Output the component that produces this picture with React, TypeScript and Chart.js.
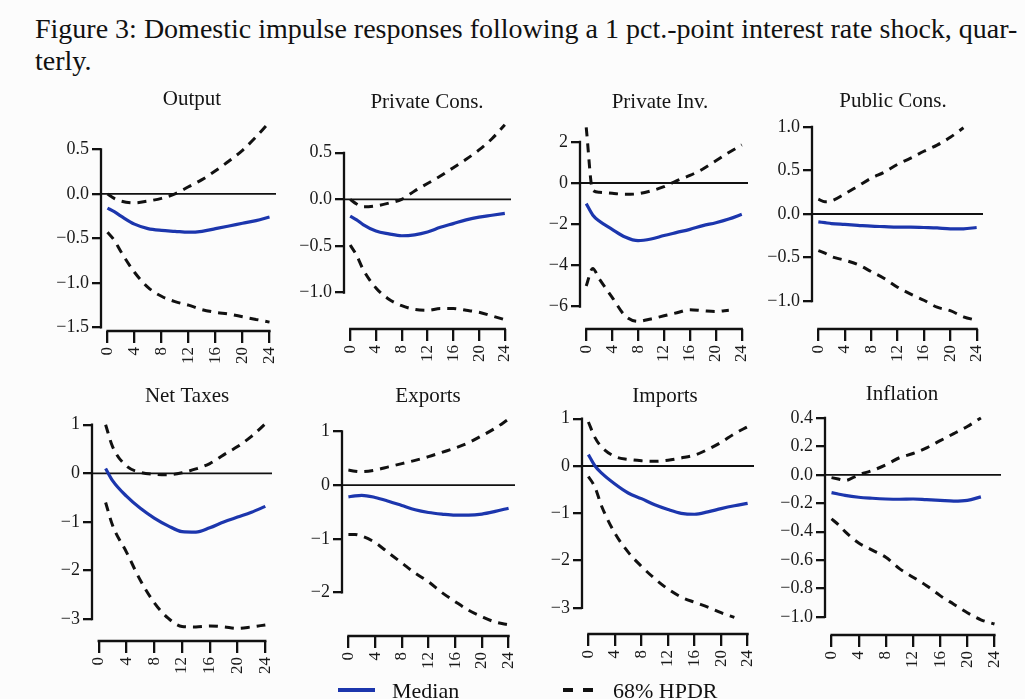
import React, { useEffect, useRef } from "react";
import { Chart, registerables } from "chart.js";

Chart.register(...registerables);

const FONT = '"Liberation Serif", "Times New Roman", serif';
const MEDIAN_COLOR = "#1c36ad";
const BAND_COLOR = "#111111";
const AXIS_COLOR = "#111111";

const HORIZONS = [0, 1, 2, 4, 6, 8, 10, 12, 14, 16, 18, 20, 22, 24];
const X_TICKS = [0, 4, 8, 12, 16, 20, 24];
const X_MIN = -0.96;
const X_MAX = 24.96;

// Output
const outputUpper = [0.0, -0.05, -0.08, -0.1, -0.08, -0.05, 0.0, 0.08, 0.16, 0.26, 0.37, 0.49, 0.64, 0.81];
const outputMedian = [-0.16, -0.2, -0.25, -0.34, -0.39, -0.41, -0.42, -0.43, -0.42, -0.39, -0.36, -0.33, -0.3, -0.26];
const outputLower = [-0.43, -0.52, -0.65, -0.88, -1.05, -1.15, -1.21, -1.25, -1.3, -1.33, -1.35, -1.38, -1.41, -1.44];
const outputTicks = [0.5, 0, -0.5, -1, -1.5];

// Private Cons.
const privConsUpper = [0.0, -0.05, -0.08, -0.07, -0.04, 0.0, 0.09, 0.17, 0.25, 0.34, 0.43, 0.53, 0.65, 0.8];
const privConsMedian = [-0.18, -0.22, -0.27, -0.34, -0.37, -0.39, -0.38, -0.35, -0.3, -0.26, -0.22, -0.19, -0.17, -0.15];
const privConsLower = [-0.49, -0.6, -0.75, -0.95, -1.07, -1.14, -1.18, -1.19, -1.17, -1.17, -1.19, -1.21, -1.25, -1.29];
const privConsTicks = [0.5, 0, -0.5, -1];

// Private Inv.
const privInvUpper = [2.7, -0.35, -0.45, -0.5, -0.55, -0.52, -0.38, -0.18, 0.12, 0.37, 0.68, 1.08, 1.48, 1.85];
const privInvMedian = [-1.0, -1.55, -1.85, -2.25, -2.62, -2.8, -2.72, -2.55, -2.4, -2.25, -2.07, -1.93, -1.75, -1.52];
const privInvLower = [-5.0, -4.15, -4.65, -5.55, -6.45, -6.72, -6.6, -6.45, -6.3, -6.15, -6.2, -6.24, -6.18, null];
const privInvTicks = [2, 0, -2, -4, -6];

// Public Cons.
const pubConsUpper = [0.17, 0.14, 0.15, 0.23, 0.32, 0.41, 0.48, 0.57, 0.64, 0.72, 0.79, 0.88, 0.99, null];
const pubConsMedian = [-0.09, -0.1, -0.11, -0.12, -0.13, -0.14, -0.145, -0.15, -0.15, -0.155, -0.16, -0.17, -0.17, -0.155];
const pubConsLower = [-0.42, -0.45, -0.49, -0.53, -0.58, -0.66, -0.74, -0.84, -0.92, -0.99, -1.07, -1.11, -1.18, -1.22];
const pubConsTicks = [1, 0.5, 0, -0.5, -1];

// Net Taxes
const netTaxUpper = [null, 1.0, 0.55, 0.15, 0.02, -0.02, -0.03, 0.01, 0.09, 0.2, 0.38, 0.55, 0.76, 1.02];
const netTaxMedian = [null, 0.1, -0.15, -0.47, -0.72, -0.92, -1.08, -1.2, -1.21, -1.12, -1.0, -0.9, -0.8, -0.68];
const netTaxLower = [null, -0.6, -1.07, -1.62, -2.2, -2.66, -2.98, -3.15, -3.16, -3.14, -3.16, -3.19, -3.16, -3.12];
const netTaxTicks = [1, 0, -1, -2, -3];

// Exports
const exportsUpper = [0.28, 0.26, 0.25, 0.28, 0.34, 0.4, 0.46, 0.53, 0.61, 0.69, 0.79, 0.92, 1.06, 1.23];
const exportsMedian = [-0.22, -0.2, -0.19, -0.23, -0.3, -0.38, -0.46, -0.51, -0.54, -0.56, -0.56, -0.54, -0.49, -0.43];
const exportsLower = [-0.92, -0.92, -0.95, -1.07, -1.26, -1.45, -1.64, -1.8, -2.0, -2.17, -2.33, -2.45, -2.55, -2.6];
const exportsTicks = [1, 0, -1, -2];

// Imports
const importsUpper = [0.93, 0.6, 0.4, 0.2, 0.14, 0.11, 0.1, 0.12, 0.17, 0.23, 0.35, 0.5, 0.68, 0.83];
const importsMedian = [0.24, 0.0, -0.15, -0.38, -0.57, -0.69, -0.82, -0.92, -1.0, -1.02, -0.97, -0.9, -0.84, -0.79];
const importsLower = [-0.22, -0.45, -0.85, -1.42, -1.82, -2.12, -2.38, -2.6, -2.77, -2.88, -2.98, -3.1, -3.2, null];
const importsTicks = [1, 0, -1, -2, -3];

// Inflation
const inflUpper = [-0.02, -0.03, -0.04, 0.0, 0.03, 0.07, 0.12, 0.15, 0.19, 0.24, 0.29, 0.34, 0.4, null];
const inflMedian = [-0.125, -0.135, -0.145, -0.158, -0.165, -0.17, -0.172, -0.17, -0.175, -0.18, -0.185, -0.18, -0.155, null];
const inflLower = [-0.31, -0.35, -0.4, -0.48, -0.53, -0.58, -0.66, -0.72, -0.78, -0.85, -0.91, -0.97, -1.02, -1.05];
const inflTicks = [0.4, 0.2, 0, -0.2, -0.4, -0.6, -0.8, -1];

const CAPTION_LINE1 =
  "Figure 3: Domestic impulse responses following a 1 pct.-point interest rate shock, quar-";
const CAPTION_LINE2 = "terly.";
const LEGEND_MEDIAN = "Median";
const LEGEND_BAND = "68% HPDR";

const PAD_L = 58;
const PAD_T = 45;
const PAD_R = 12;
const PAD_B = 55;

type Series = (number | null)[];
type PanelSpec = {
  title: string;
  upper: Series;
  median: Series;
  lower: Series;
  yTicks: number[];
  decimals: number;
  yMin: number;
  yMax: number;
  box: { left: number; right: number; top: number; bottom: number };
  titleX: number;
  titleY: number;
};

const PANELS: PanelSpec[] = [
  { title: "Output", upper: outputUpper, median: outputMedian, lower: outputLower, yTicks: outputTicks, decimals: 1,
    yMin: -1.54, yMax: 0.92, box: { left: 101, right: 276, top: 112, bottom: 331 }, titleX: 192, titleY: 105 },
  { title: "Private Cons.", upper: privConsUpper, median: privConsMedian, lower: privConsLower, yTicks: privConsTicks, decimals: 1,
    yMin: -1.39, yMax: 0.894, box: { left: 344, right: 511, top: 116, bottom: 329 }, titleX: 427, titleY: 108 },
  { title: "Private Inv.", upper: privInvUpper, median: privInvMedian, lower: privInvLower, yTicks: privInvTicks, decimals: 0,
    yMin: -7.09, yMax: 3.06, box: { left: 580, right: 748, top: 120, bottom: 329 }, titleX: 660, titleY: 108 },
  { title: "Public Cons.", upper: pubConsUpper, median: pubConsMedian, lower: pubConsLower, yTicks: pubConsTicks, decimals: 1,
    yMin: -1.32, yMax: 1.09, box: { left: 812, right: 983, top: 119, bottom: 329 }, titleX: 893, titleY: 107 },
  { title: "Net Taxes", upper: netTaxUpper, median: netTaxMedian, lower: netTaxLower, yTicks: netTaxTicks, decimals: 0,
    yMin: -3.45, yMax: 1.2, box: { left: 92, right: 272, top: 415, bottom: 641 }, titleX: 187, titleY: 402 },
  { title: "Exports", upper: exportsUpper, median: exportsMedian, lower: exportsLower, yTicks: exportsTicks, decimals: 0,
    yMin: -2.81, yMax: 1.38, box: { left: 342, right: 515, top: 411, bottom: 636 }, titleX: 428, titleY: 402 },
  { title: "Imports", upper: importsUpper, median: importsMedian, lower: importsLower, yTicks: importsTicks, decimals: 0,
    yMin: -3.55, yMax: 1.12, box: { left: 582, right: 754, top: 413, bottom: 634 }, titleX: 665, titleY: 402 },
  { title: "Inflation", upper: inflUpper, median: inflMedian, lower: inflLower, yTicks: inflTicks, decimals: 1,
    yMin: -1.127, yMax: 0.456, box: { left: 825, right: 1001, top: 410, bottom: 635 }, titleX: 902, titleY: 400 },
];

const fmt = (v: number, d: number) => {
  const s = Math.abs(v).toFixed(d);
  return v < -1e-9 ? "\u2212" + s : s;
};

const rAxesPlugin = {
  id: "rAxes",
  afterDraw(chart: any, _args: any, opts: any) {
    const { ctx, chartArea, scales } = chart;
    const x = scales.x;
    const y = scales.y;
    ctx.save();
    ctx.strokeStyle = AXIS_COLOR;
    ctx.lineWidth = 2.3;
    ctx.beginPath();
    const yt: number[] = opts.yTicks;
    ctx.moveTo(chartArea.left, y.getPixelForValue(Math.max(...yt)) - 1.1);
    ctx.lineTo(chartArea.left, y.getPixelForValue(Math.min(...yt)) + 1.1);
    ctx.moveTo(x.getPixelForValue(X_TICKS[0]) - 1.1, chartArea.bottom);
    ctx.lineTo(x.getPixelForValue(X_TICKS[X_TICKS.length - 1]) + 1.1, chartArea.bottom);
    ctx.stroke();
    ctx.fillStyle = "#151515";
    ctx.font = `21px ${FONT}`;
    ctx.textAlign = "center";
    ctx.textBaseline = "alphabetic";
    ctx.fillText(opts.title, opts.titleX, opts.titleY);
    ctx.restore();
  },
};

function Panel({ spec }: { spec: PanelSpec }) {
  const ref = useRef<HTMLCanvasElement | null>(null);
  const { left, right, top, bottom } = spec.box;
  const cw = right - left + PAD_L + PAD_R;
  const ch = bottom - top + PAD_T + PAD_B;
  const cLeft = left - PAD_L;
  const cTop = top - PAD_T;

  useEffect(() => {
    if (!ref.current) return;
    const toPts = (arr: Series) =>
      HORIZONS.map((h, i) => (arr[i] == null ? null : { x: h, y: arr[i] as number })).filter(
        (p) => p !== null
      ) as { x: number; y: number }[];
    const bandStyle = {
      borderColor: BAND_COLOR,
      borderWidth: 3,
      borderDash: [9, 7],
      pointRadius: 0,
      cubicInterpolationMode: "monotone" as const,
      fill: false,
    };
    const chart = new Chart(ref.current, {
      type: "line",
      data: {
        datasets: [
          {
            label: LEGEND_MEDIAN,
            data: toPts(spec.median),
            borderColor: MEDIAN_COLOR,
            borderWidth: 3.2,
            pointRadius: 0,
            cubicInterpolationMode: "monotone",
            fill: false,
          },
          { label: LEGEND_BAND + " upper", data: toPts(spec.upper), ...bandStyle },
          { label: LEGEND_BAND + " lower", data: toPts(spec.lower), ...bandStyle },
          {
            label: "zero",
            data: [
              { x: X_MIN, y: 0 },
              { x: X_MAX, y: 0 },
            ],
            borderColor: AXIS_COLOR,
            borderWidth: 1.8,
            pointRadius: 0,
            fill: false,
          },
        ],
      },
      options: {
        responsive: false,
        animation: false,
        events: [],
        layout: { padding: { left: 0, top: PAD_T, right: PAD_R, bottom: 0 } },
        plugins: {
          legend: { display: false },
          tooltip: { enabled: false },
          title: { display: false },
          rAxes: {
            yTicks: spec.yTicks,
            title: spec.title,
            titleX: spec.titleX - cLeft,
            titleY: spec.titleY - cTop,
          },
        } as any,
        scales: {
          x: {
            type: "linear",
            min: X_MIN,
            max: X_MAX,
            bounds: "data",
            afterBuildTicks: (ax: any) => {
              ax.ticks = X_TICKS.map((v) => ({ value: v }));
            },
            afterFit: (ax: any) => {
              ax.height = PAD_B;
              ax.paddingLeft = 0;
              ax.paddingRight = 0;
            },
            grid: {
              drawOnChartArea: false,
              drawTicks: true,
              tickLength: 12,
              lineWidth: 2.3,
              color: AXIS_COLOR,
            },
            border: { display: false },
            ticks: {
              autoSkip: false,
              minRotation: 90,
              maxRotation: 90,
              padding: 4,
              color: "#1a1a1a",
              font: { family: FONT, size: 17 },
              callback: (v: any) => String(v),
            },
          },
          y: {
            type: "linear",
            min: spec.yMin,
            max: spec.yMax,
            bounds: "data",
            afterBuildTicks: (ax: any) => {
              ax.ticks = spec.yTicks.map((v) => ({ value: v }));
            },
            afterFit: (ax: any) => {
              ax.width = PAD_L;
              ax.paddingTop = 0;
              ax.paddingBottom = 0;
            },
            grid: {
              drawOnChartArea: false,
              drawTicks: true,
              tickLength: 9,
              lineWidth: 2.3,
              color: AXIS_COLOR,
            },
            border: { display: false },
            ticks: {
              autoSkip: false,
              padding: 3,
              color: "#1a1a1a",
              font: { family: FONT, size: 18 },
              callback: (v: any) => fmt(Number(v), spec.decimals),
            },
          },
        },
      },
      plugins: [rAxesPlugin],
    });
    return () => chart.destroy();
  }, [spec]);

  return (
    <canvas
      ref={ref}
      width={cw}
      height={ch}
      style={{ position: "absolute", left: cLeft, top: cTop, width: cw, height: ch }}
    />
  );
}

export default function App() {
  return (
    <div
      style={{
        position: "absolute",
        left: 0,
        top: 0,
        width: 1025,
        height: 699,
        overflow: "hidden",
        background: "#fcfcfc",
        fontFamily: FONT,
        color: "#111",
      }}
    >
      <div
        style={{
          position: "absolute",
          left: 35,
          top: 13,
          fontSize: 28,
          lineHeight: "32px",
          whiteSpace: "nowrap",
        }}
      >
        {CAPTION_LINE1}
        <br />
        {CAPTION_LINE2}
      </div>
      {PANELS.map((p) => (
        <Panel key={p.title} spec={p} />
      ))}
      <div style={{ position: "absolute", left: 338, top: 688, width: 37, height: 4, background: MEDIAN_COLOR }} />
      <div style={{ position: "absolute", left: 392, top: 679, fontSize: 22, lineHeight: "24px", whiteSpace: "nowrap" }}>
        {LEGEND_MEDIAN}
      </div>
      <div style={{ position: "absolute", left: 563, top: 688, width: 10, height: 4, background: BAND_COLOR }} />
      <div style={{ position: "absolute", left: 583, top: 688, width: 10, height: 4, background: BAND_COLOR }} />
      <div style={{ position: "absolute", left: 613, top: 679, fontSize: 22, lineHeight: "24px", whiteSpace: "nowrap" }}>
        {LEGEND_BAND}
      </div>
    </div>
  );
}
